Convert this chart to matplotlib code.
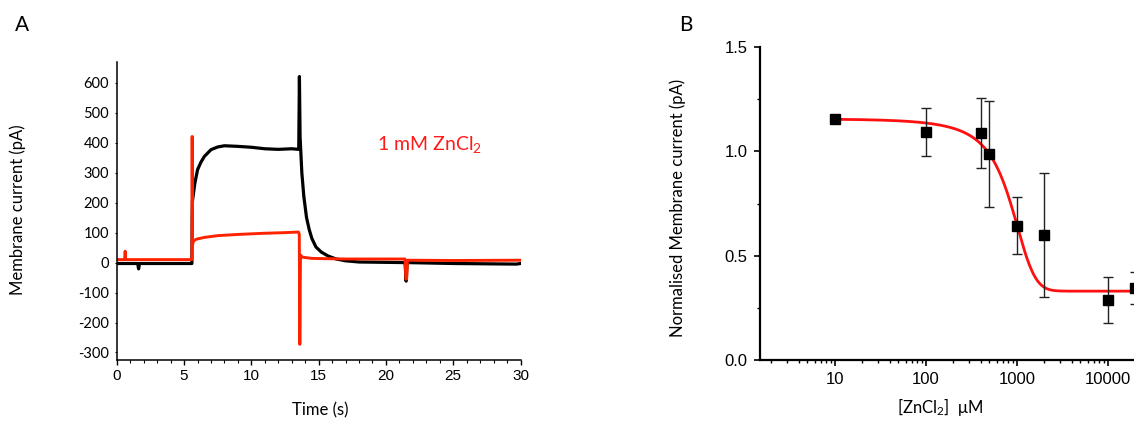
import numpy as np
import matplotlib
matplotlib.use("Agg")
import matplotlib.pyplot as plt

plt.rcParams['font.family'] = ['Lato', 'Open Sans', 'DejaVu Sans']
plt.rcParams['mathtext.default'] = 'regular'
plt.rcParams['axes.unicode_minus'] = False

# --- Panel A: current traces (key points) ---
black_t = [0, 1.55, 1.62, 1.69, 5.58, 5.6, 5.62, 5.8, 6.0, 6.25, 6.5, 7.0, 7.5, 8.0,
           9.0, 10.0, 11.0, 12.0, 13.0, 13.52, 13.57, 13.62, 13.75, 13.9, 14.1, 14.3,
           14.5, 14.8, 15.2, 15.7, 16.3, 17.0, 18.0, 21.42, 21.5, 21.58, 25.0, 29.7, 30]
black_i = [-3, -3, -21, -3, -3, 150, 205, 265, 310, 335, 354, 377, 386, 390,
           388, 385, 380, 378, 380, 378, 621, 420, 300, 220, 150, 110,
           80, 52, 35, 22, 12, 6, 2, 0, -62, 0, -3, -5, -3]

red_t = [0, 0.58, 0.62, 0.66, 5.58, 5.6, 5.63, 5.7, 5.9, 6.5, 7.5, 9.0, 11.0, 12.5,
         13.5, 13.56, 13.6, 13.65, 13.8, 14.5, 17.0, 21.42, 21.48, 21.54, 21.6, 25.0, 30]
red_i = [10, 10, 38, 10, 10, 421, 60, 72, 78, 84, 90, 94, 98, 100,
         102, 95, -273, 25, 18, 14, 12, 12, -55, -55, 8, 7, 8]

# --- Panel B: dose response ---
conc = [10, 100, 400, 500, 1000, 2000, 10000, 20000]
norm_current = [1.156, 1.092, 1.089, 0.988, 0.644, 0.599, 0.287, 0.345]
norm_err = [0.015, 0.116, 0.167, 0.256, 0.136, 0.299, 0.11, 0.075]

# Boltzmann fit parameters (top, bottom, x0, dx)
fit_top, fit_bottom, fit_x0, fit_dx = 1.21, 0.33, 830, 305

red = '#ff2200'

fig = plt.figure(figsize=(11.34, 4.21), dpi=100)

# ---------------- A ----------------
axA = fig.add_axes([0.103, 0.145, 0.356, 0.708])
axA.plot(black_t, black_i, color='black', lw=2.3, solid_joinstyle='round')
axA.plot(red_t, red_i, color=red, lw=2.1, solid_joinstyle='round')
axA.set_xlim(0, 30)
axA.set_ylim(-325, 670)
axA.set_xticks(range(0, 31, 5))
axA.set_xticks(range(0, 31), minor=True)
axA.set_yticks(range(-300, 601, 100))
for s in ['top', 'right']:
    axA.spines[s].set_visible(False)
for s in ['left', 'bottom']:
    axA.spines[s].set_linewidth(1.1)
axA.tick_params(axis='x', which='major', direction='out', length=3.5, width=1, pad=3)
axA.tick_params(axis='x', which='minor', direction='out', length=2, width=0.8)
axA.tick_params(axis='y', direction='out', length=1.5, width=0.8, pad=4)
for lab in axA.get_xticklabels():
    lab.set_family(['Liberation Sans', 'DejaVu Sans'])
    lab.set_fontsize(11)
for lab in axA.get_yticklabels():
    lab.set_fontsize(10.5)
axA.text(19.3, 376, '1 mM ZnCl$_2$', color='#ff1a1a', fontsize=14, va='baseline')

fig.text(0.016, 0.501, 'Membrane current (pA)', rotation=90, ha='center', va='center', fontsize=12)
fig.text(0.282, 0.026, 'Time (s)', ha='center', va='center', fontsize=12)
fig.text(0.019, 0.94, 'A', ha='center', va='center', fontsize=15)

# ---------------- B ----------------
axB = fig.add_axes([0.670, 0.145, 0.347, 0.743])
xfit = np.logspace(1, 4.5, 400)
yfit = fit_bottom + (fit_top - fit_bottom) / (1 + np.exp((xfit - fit_x0) / fit_dx))
axB.plot(xfit, yfit, color='#ff1010', lw=2, zorder=2)
axB.errorbar(conc, norm_current, yerr=norm_err, fmt='s', color='black', ms=7,
             ecolor='#222222', elinewidth=1, capsize=3.5, capthick=1, zorder=3)
axB.set_xscale('log')
axB.set_xlim(10 ** 0.176, 10 ** 4.5)
axB.set_ylim(0, 1.5)
axB.set_xticks([10, 100, 1000, 10000])
axB.set_xticklabels(['10', '100', '1000', '10000'])
axB.set_yticks([0, 0.5, 1.0, 1.5])
axB.set_yticklabels(['0.0', '0.5', '1.0', '1.5'])
axB.set_yticks([0.25, 0.75, 1.25], minor=True)
for s in ['top', 'right']:
    axB.spines[s].set_visible(False)
for s in ['left', 'bottom']:
    axB.spines[s].set_linewidth(1.6)
axB.tick_params(which='major', direction='out', length=4, width=1.2, pad=5)
axB.tick_params(which='minor', direction='out', length=2.5, width=1)
for lab in axB.get_xticklabels() + axB.get_yticklabels():
    lab.set_family(['Liberation Sans', 'DejaVu Sans'])
    lab.set_fontsize(12)

fig.text(0.598, 0.506, 'Normalised Membrane current (pA)', rotation=90, ha='center',
         va='center', fontsize=12)
fig.text(0.829, 0.033, '[ZnCl$_2$]  \u03bcM', ha='center', va='center', fontsize=12)
fig.text(0.605, 0.94, 'B', ha='center', va='center', fontsize=15)

fig.savefig('out.png', dpi=100)
